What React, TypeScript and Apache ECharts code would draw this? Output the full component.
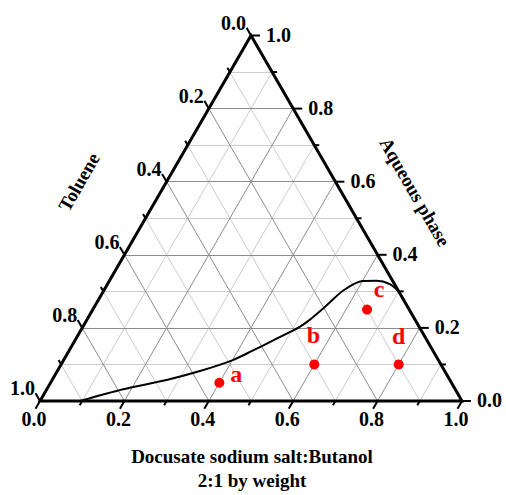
import React, { useEffect, useRef } from "react";
import * as echarts from "echarts";

// Ternary data (Docusate fraction D, Aqueous fraction A; Toluene = 1 - D - A)
const pointLabels = ["a", "b", "c", "d"];
const pointDocusate = [0.4, 0.6, 0.65, 0.8];
const pointAqueous = [0.05, 0.1, 0.25, 0.1];
const pointLabelOffsets = [
  [17, -9],
  [-1, -29],
  [12, -21],
  [0, -28],
];

const curveDocusate = [0.095, 0.181, 0.271, 0.338, 0.401, 0.434, 0.464, 0.49, 0.514, 0.528, 0.541, 0.552, 0.568, 0.6, 0.633, 0.669, 0.7];
const curveAqueous = [0.0, 0.032, 0.0575, 0.082, 0.112, 0.137, 0.161, 0.182, 0.203, 0.222, 0.246, 0.27, 0.303, 0.328, 0.329, 0.32, 0.3];

const gridSteps = [0.1, 0.2, 0.3, 0.4, 0.5, 0.6, 0.7, 0.8, 0.9];
const tickSteps = [0, 0.1, 0.2, 0.3, 0.4, 0.5, 0.6, 0.7, 0.8, 0.9, 1.0];
const tickLabels = ["0.0", "0.2", "0.4", "0.6", "0.8", "1.0"];

const SQ = Math.sqrt(3) / 2;
const toXY = (d: number, a: number) => [d + a / 2, a * SQ];

const FONT = "'Liberation Serif', 'Times New Roman', serif";

export default function App() {
  const ref = useRef<HTMLDivElement>(null);
  useEffect(() => {
    document.body.style.margin = "0";
    const chart = echarts.init(ref.current!, null, { renderer: "svg" });

    const minor: any[] = [];
    const major: any[] = [];
    gridSteps.forEach((v, i) => {
      const target = (i + 1) % 2 === 0 ? major : minor;
      target.push({ coords: [toXY(0, v), toXY(1 - v, v)] });
      target.push({ coords: [toXY(v, 0), toXY(v, 1 - v)] });
      target.push({ coords: [toXY(1 - v, 0), toXY(0, 1 - v)] });
    });

    const tickData: any[] = [];
    tickSteps.forEach((v, i) => {
      const isMajor = i % 2 === 0 ? 1 : 0;
      const li = isMajor ? i / 2 : -1;
      const b = toXY(v, 0);
      tickData.push([b[0], b[1], 0, isMajor, li]);
      const r = toXY(1 - v, v);
      tickData.push([r[0], r[1], 1, isMajor, li]);
      const l = toXY(0, 1 - v);
      tickData.push([l[0], l[1], 2, isMajor, li]);
    });

    const frame = [toXY(0, 0), toXY(1, 0), toXY(0, 1), toXY(0, 0), toXY(1, 0)];
    const curve = curveDocusate.map((d, i) => toXY(d, curveAqueous[i]));
    const points = pointDocusate.map((d, i) => ({
      value: toXY(d, pointAqueous[i]),
      name: pointLabels[i],
      label: { offset: pointLabelOffsets[i] },
    }));

    chart.setOption({
      animation: false,
      grid: { left: 40, top: 35.5, width: 422, height: 365.5 },
      xAxis: { type: "value", min: 0, max: 1, show: false },
      yAxis: { type: "value", min: 0, max: SQ, show: false },
      series: [
        {
          type: "lines",
          coordinateSystem: "cartesian2d",
          clip: false,
          silent: true,
          lineStyle: { color: "#cccccc", width: 1, opacity: 1 },
          data: minor,
          z: 1,
        },
        {
          type: "lines",
          coordinateSystem: "cartesian2d",
          clip: false,
          silent: true,
          lineStyle: { color: "#8c8c8c", width: 1, opacity: 1 },
          data: major,
          z: 2,
        },
        {
          type: "line",
          data: curve,
          smooth: 0.3,
          symbol: "none",
          clip: false,
          lineStyle: { color: "#000", width: 2 },
          z: 3,
        },
        {
          type: "line",
          data: frame,
          symbol: "none",
          clip: false,
          lineStyle: { color: "#000", width: 3, join: "miter" },
          z: 4,
        },
        {
          type: "custom",
          coordinateSystem: "cartesian2d",
          encode: { x: 0, y: 1 },
          clip: false,
          z: 5,
          data: tickData,
          renderItem: (params: any, api: any) => {
            const p = api.coord([api.value(0), api.value(1)]);
            const ax = api.value(2);
            const isMajor = api.value(3) === 1;
            const li = api.value(4);
            let dx = 0, dy = 0;
            const L = isMajor ? 9 : 5;
            if (ax === 0) { dx = -0.5 * L; dy = 0.866 * L; }
            else if (ax === 1) { dx = L; dy = 0; }
            else { dx = -0.5 * L; dy = -0.866 * L; }
            const children: any[] = [
              {
                type: "line",
                shape: { x1: p[0], y1: p[1], x2: p[0] + dx, y2: p[1] + dy },
                style: { stroke: "#000", lineWidth: 2 },
              },
            ];
            if (li >= 0) {
              let tx = 0, ty = 0, align = "center";
              if (ax === 0) { tx = p[0] - 6; ty = p[1] + 18; align = "center"; }
              else if (ax === 1) { tx = p[0] + 15; ty = p[1] - 1; align = "left"; }
              else { tx = p[0] - 5; ty = p[1] - 13; align = "right"; }
              children.push({
                type: "text",
                x: tx,
                y: ty,
                style: {
                  text: tickLabels[li],
                  fill: "#000",
                  fontFamily: FONT,
                  fontWeight: "bold",
                  fontSize: 20,
                  align,
                  verticalAlign: "middle",
                },
              });
            }
            return { type: "group", children };
          },
        },
        {
          type: "scatter",
          data: points,
          symbol: "circle",
          symbolSize: 10,
          itemStyle: { color: "#ff0000", opacity: 1 },
          z: 6,
          label: {
            show: true,
            position: "inside",
            formatter: (p: any) => p.name,
            color: "#ff0000",
            fontFamily: FONT,
            fontWeight: "bold",
            fontSize: 24,
          },
        },
      ],
      graphic: [
        {
          type: "text",
          x: 79,
          y: 182,
          rotation: Math.PI / 3,
          style: {
            text: "Toluene",
            fill: "#000",
            fontFamily: FONT,
            fontWeight: "bold",
            fontSize: 19,
            align: "center",
            verticalAlign: "middle",
          },
        },
        {
          type: "text",
          x: 415,
          y: 192,
          rotation: -Math.PI / 3,
          style: {
            text: "Aqueous phase",
            fill: "#000",
            fontFamily: FONT,
            fontWeight: "bold",
            fontSize: 19,
            align: "center",
            verticalAlign: "middle",
          },
        },
        {
          type: "text",
          x: 252,
          y: 456,
          style: {
            text: "Docusate sodium salt:Butanol",
            fill: "#000",
            fontFamily: FONT,
            fontWeight: "bold",
            fontSize: 19,
            align: "center",
            verticalAlign: "middle",
          },
        },
        {
          type: "text",
          x: 252,
          y: 480,
          style: {
            text: "2:1 by weight",
            fill: "#000",
            fontFamily: FONT,
            fontWeight: "bold",
            fontSize: 19,
            align: "center",
            verticalAlign: "middle",
          },
        },
      ],
    });
    return () => chart.dispose();
  }, []);
  return <div ref={ref} style={{ width: 506, height: 495 }} />;
}
